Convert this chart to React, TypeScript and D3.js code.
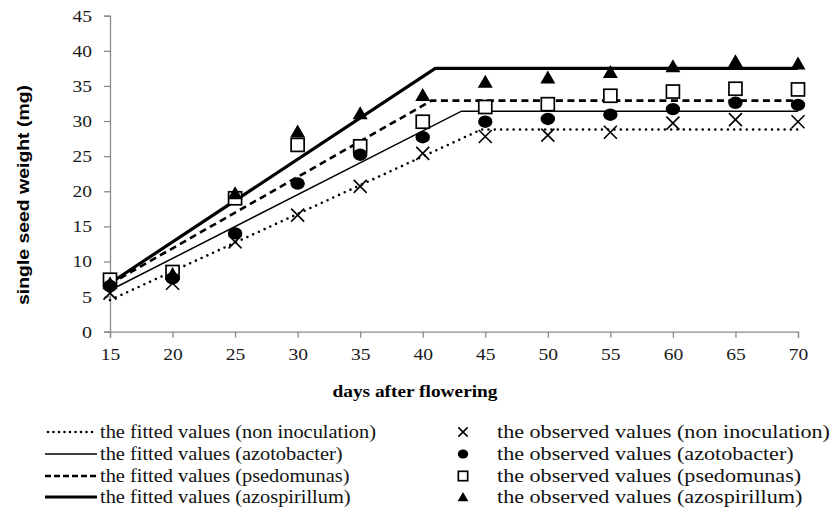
import React, { useEffect, useRef } from 'react';
import * as d3 from 'd3';

// observation days
const days = [15, 20, 25, 30, 35, 40, 45, 50, 55, 60, 65, 70];

// observed values (mg)
const obsNonInoc = [5.5, 6.9, 12.8, 16.6, 20.7, 25.4, 27.8, 28.0, 28.4, 29.7, 30.2, 29.9];
const obsAzoto = [6.5, 7.6, 14.0, 21.1, 25.2, 27.7, 29.9, 30.3, 30.9, 31.7, 32.6, 32.3];
const obsPseudo = [7.4, 8.5, 19.0, 26.6, 26.4, 29.9, 32.0, 32.4, 33.6, 34.2, 34.6, 34.5];
const obsAzosp = [6.9, 8.2, 19.7, 28.5, 31.1, 33.7, 35.6, 36.2, 37.0, 37.8, 38.5, 38.2];

// fitted (linear-plateau) curves: [day, value]
const fitNonInoc: [number, number][] = [[15, 4.5], [44.7, 28.8], [70, 28.8]];
const fitAzoto: [number, number][] = [[15, 5.9], [43.1, 31.4], [70, 31.4]];
const fitPseudo: [number, number][] = [[15, 6.8], [40.7, 32.9], [70, 32.9]];
const fitAzosp: [number, number][] = [[15, 6.9], [41, 37.5], [70, 37.5]];

const yTicks = [0, 5, 10, 15, 20, 25, 30, 35, 40, 45];

const fittedLabels = [
  'the fitted values (non inoculation)',
  'the fitted values (azotobacter)',
  'the fitted values (psedomunas)',
  'the fitted values (azospirillum)',
];
const observedLabels = [
  'the observed values (non inoculation)',
  'the observed values (azotobacter)',
  'the observed values (psedomunas)',
  'the observed values (azospirillum)',
];

const lineStyles = [
  { width: 2.6, dash: '0 6.3', cap: 'round' },
  { width: 1.5, dash: null, cap: 'butt' },
  { width: 2.6, dash: '7 4.5', cap: 'butt' },
  { width: 3.2, dash: null, cap: 'butt' },
];

const serif = '"Liberation Serif", "Times New Roman", serif';

const App = () => {
  const svgRef = useRef<SVGSVGElement>(null);

  useEffect(() => {
    document.body.style.margin = '0';
    const svg = d3.select(svgRef.current);
    svg.selectAll('*').remove();

    const x = d3.scaleLinear().domain([15, 70]).range([110, 798]);
    const y = d3.scaleLinear().domain([0, 45]).range([331.7, 15.7]);
    const axisColor = '#8a8a8a';

    const styleTicks = (sel: any) => {
      sel.attr('font-family', serif).attr('font-size', 17).attr('fill', '#1a1a1a')
        .attr('lengthAdjust', 'spacingAndGlyphs')
        .attr('textLength', (d: number) => (String(d).length > 1 ? 19.5 : 10));
    };

    // Y axis
    const yAxis = svg.append('g')
      .attr('transform', `translate(${x(15)},0)`)
      .call(d3.axisLeft(y).tickValues(yTicks).tickSize(6).tickPadding(12).tickFormat(d3.format('d')));
    yAxis.select('.domain').attr('stroke', axisColor).attr('stroke-width', 1.3);
    yAxis.selectAll('.tick line').attr('stroke', axisColor).attr('stroke-width', 1.3);
    styleTicks(yAxis.selectAll('.tick text'));

    // X axis
    const xAxis = svg.append('g')
      .attr('transform', `translate(0,${y(0)})`)
      .call(d3.axisBottom(x).tickValues(days).tickSize(6).tickPadding(10).tickFormat(d3.format('d')));
    xAxis.select('.domain').attr('stroke', axisColor).attr('stroke-width', 1.3);
    xAxis.selectAll('.tick line').attr('stroke', axisColor).attr('stroke-width', 1.3);
    styleTicks(xAxis.selectAll('.tick text'));

    // Axis titles
    svg.append('text')
      .attr('transform', `translate(29,195) rotate(-90)`)
      .attr('text-anchor', 'middle')
      .attr('font-family', '"Liberation Sans", Arial, sans-serif')
      .attr('font-weight', 'bold')
      .attr('font-size', 17)
      .attr('textLength', 220)
      .attr('lengthAdjust', 'spacingAndGlyphs')
      .text('single seed weight (mg)');

    svg.append('text')
      .attr('x', 415)
      .attr('y', 397)
      .attr('text-anchor', 'middle')
      .attr('font-family', serif)
      .attr('font-weight', 'bold')
      .attr('font-size', 17)
      .attr('textLength', 165)
      .attr('lengthAdjust', 'spacingAndGlyphs')
      .text('days after flowering');

    // Fitted lines
    const line = d3.line<[number, number]>().x(d => x(d[0])).y(d => y(d[1]));
    const fits = [fitNonInoc, fitAzoto, fitPseudo, fitAzosp];
    fits.forEach((f, i) => {
      const s = lineStyles[i];
      const p = svg.append('path')
        .datum(f)
        .attr('fill', 'none')
        .attr('stroke', '#000')
        .attr('stroke-width', s.width)
        .attr('stroke-linecap', s.cap)
        .attr('d', line);
      if (s.dash) p.attr('stroke-dasharray', s.dash);
    });

    // Observed markers
    const drawMarker = (g: any, kind: number, cx: number, cy: number, k = 1) => {
      if (kind === 0) {
        const r = 6.5 * k;
        g.append('path')
          .attr('d', `M${cx - r},${cy - r}L${cx + r},${cy + r}M${cx - r},${cy + r}L${cx + r},${cy - r}`)
          .attr('stroke', '#000').attr('stroke-width', 1.6).attr('fill', 'none');
      } else if (kind === 1) {
        g.append('ellipse').attr('cx', cx).attr('cy', cy)
          .attr('rx', 7.2 * k).attr('ry', 6.2 * k).attr('fill', '#000');
      } else if (kind === 2) {
        const h = 6.5 * k;
        g.append('rect').attr('x', cx - h).attr('y', cy - h).attr('width', 2 * h).attr('height', 2 * h)
          .attr('fill', '#fff').attr('stroke', '#000').attr('stroke-width', 1.7);
      } else {
        g.append('path')
          .attr('d', `M${cx},${cy - 7 * k}L${cx + 7.5 * k},${cy + 6 * k}L${cx - 7.5 * k},${cy + 6 * k}Z`)
          .attr('fill', '#000');
      }
    };

    const markers = svg.append('g');
    [obsNonInoc, obsPseudo, obsAzoto, obsAzosp].forEach((vals, idx) => {
      const kind = [0, 2, 1, 3][idx];
      vals.forEach((v, j) => drawMarker(markers, kind, x(days[j]), y(v)));
    });

    // Legend: texts are stretched horizontally by a common factor per column
    const rowY = [432, 454, 476, 497];
    const legend = svg.append('g');
    const addLabels = (labels: string[], x0: number, firstWidth: number) => {
      const texts = labels.map((lab, i) =>
        legend.append('text')
          .attr('x', x0).attr('y', rowY[i]).attr('dy', '0.33em')
          .attr('font-family', serif).attr('font-size', 18).attr('fill', '#111')
          .text(lab));
      const natural = texts.map(t => (t.node() as SVGTextElement).getComputedTextLength());
      const k = natural[0] > 0 ? firstWidth / natural[0] : 1;
      texts.forEach((t, i) => {
        if (natural[i] > 0) {
          t.attr('textLength', natural[i] * k).attr('lengthAdjust', 'spacingAndGlyphs');
        }
      });
    };

    fittedLabels.forEach((_, i) => {
      const s = lineStyles[i];
      const l = legend.append('line')
        .attr('x1', i === 0 ? 48 : 45).attr('x2', 97)
        .attr('y1', rowY[i]).attr('y2', rowY[i])
        .attr('stroke', '#000')
        .attr('stroke-width', s.width)
        .attr('stroke-linecap', s.cap);
      if (s.dash) l.attr('stroke-dasharray', i === 0 ? '0 5.5' : '6 3');
    });
    addLabels(fittedLabels, 100, 276);

    observedLabels.forEach((_, i) => drawMarker(legend, i, 463, rowY[i], 0.72));
    addLabels(observedLabels, 497, 333);
  }, []);

  return <svg ref={svgRef} width={834} height={517} style={{ display: 'block', background: '#fff' }} />;
};

export default App;
